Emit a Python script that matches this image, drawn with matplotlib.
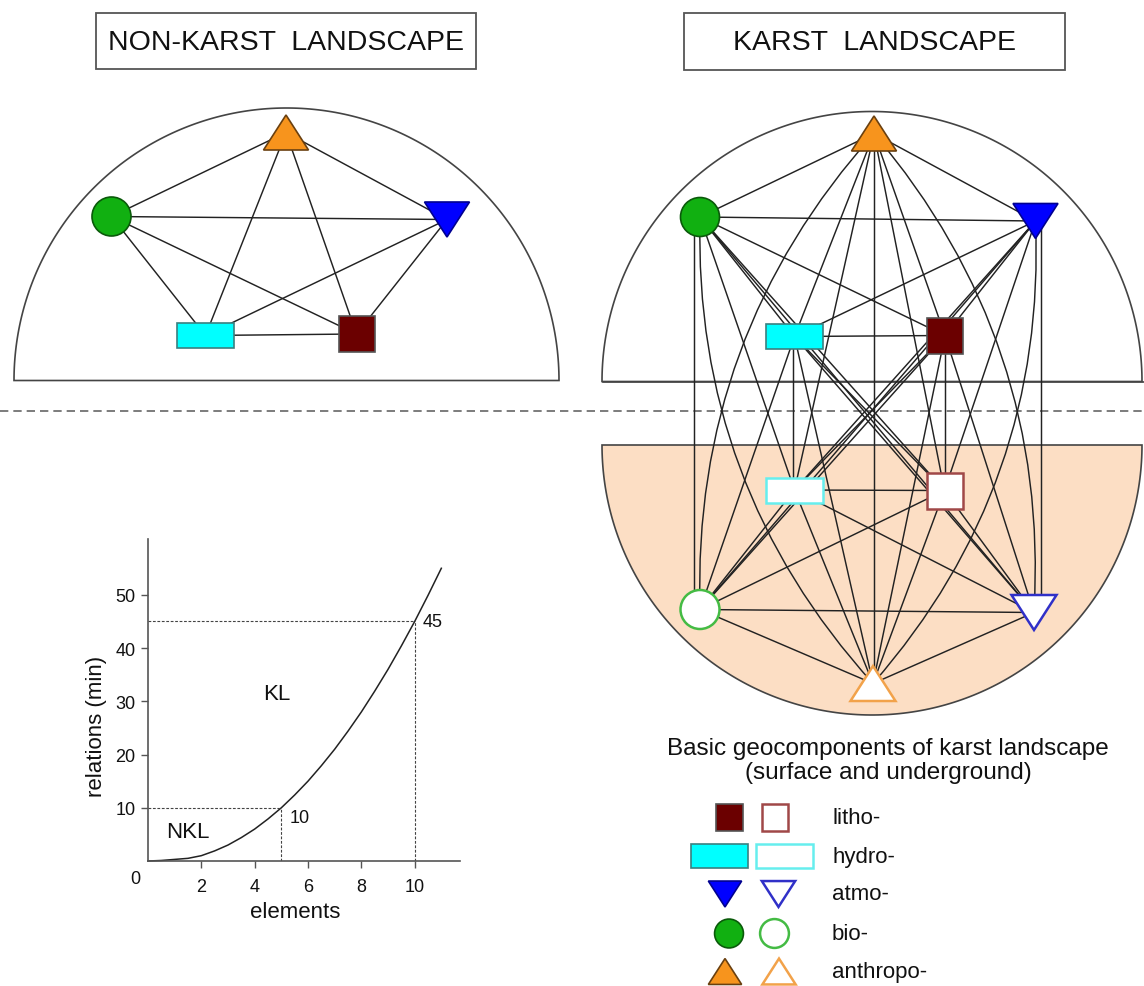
import numpy as np
import matplotlib
matplotlib.use("Agg")
import matplotlib.pyplot as plt
from matplotlib.patches import Rectangle, Circle, Polygon, PathPatch
from matplotlib.path import Path

plt.rcParams['font.family'] = ['Liberation Sans', 'DejaVu Sans']

# ---------------- data ----------------
titles = ["NON-KARST  LANDSCAPE", "KARST  LANDSCAPE"]
components = ["litho", "hydro", "atmo", "bio", "anthropo"]
legend_labels = ["litho-", "hydro-", "atmo-", "bio-", "anthropo-"]
legend_title = "Basic geocomponents of karst landscape\n(surface and underground)"

# inset chart: minimum number of relations vs. number of elements
elements = [0, 0.5, 1, 1.5, 2, 2.5, 3, 3.5, 4, 4.5, 5, 5.5, 6, 6.5, 7, 7.5,
            8, 8.5, 9, 9.5, 10, 10.5, 11]
relations = [0, 0.1, 0.3, 0.5, 1, 1.9, 3, 4.4, 6, 7.9, 10, 12.4, 15, 17.9,
             21, 24.4, 28, 31.9, 36, 40.4, 45, 49.9, 55]
marked_elements = [5, 10]
marked_relations = [10, 45]
xticks = [2, 4, 6, 8, 10]
yticks = [10, 20, 30, 40, 50]

# ---------------- layout (pixel space) ----------------
W, H = 1144, 987
fig = plt.figure(figsize=(W / 100, H / 100), dpi=100)
ax = fig.add_axes([0, 0, 1, 1])
ax.set_xlim(0, W)
ax.set_ylim(H, 0)
ax.axis('off')

LINE = '#222222'
PEACH = '#FCDEC4'
ELW = 1.05

styles = {
    'litho':    dict(fill='#6B0000', edge='#555555', hedge='#A04848'),
    'hydro':    dict(fill='#00FFFF', edge='#3A8080', hedge='#66EEEE'),
    'atmo':     dict(fill='#0000FF', edge='#000090', hedge='#3030C8'),
    'bio':      dict(fill='#11B011', edge='#0A5A0A', hedge='#44BB44'),
    'anthropo': dict(fill='#F7941D', edge='#6A4010', hedge='#F2A24A'),
}

def draw_node(kind, x, y, filled=True, scale=1.0, z=5):
    st = styles[kind]
    fc = st['fill'] if filled else 'white'
    ec = st['edge'] if filled else st['hedge']
    lw = 1.2 if filled else 1.8
    if kind == 'litho':
        s = 36 * scale
        p = Rectangle((x - s / 2, y - s / 2), s, s)
    elif kind == 'hydro':
        w, h = 57, 25 * scale
        p = Rectangle((x - w / 2, y - h / 2), w, h)
    elif kind == 'bio':
        p = Circle((x, y), 19.5 * scale)
    elif kind == 'atmo':
        w, h = 45 * scale, 35 * scale
        p = Polygon([(x - w / 2, y - h / 2), (x + w / 2, y - h / 2), (x, y + h / 2)])
    else:
        w, h = 45 * scale, 35 * scale
        p = Polygon([(x - w / 2, y + h / 2), (x + w / 2, y + h / 2), (x, y - h / 2)])
    p.set_facecolor(fc)
    p.set_edgecolor(ec)
    p.set_linewidth(lw)
    p.set_zorder(z)
    ax.add_patch(p)

def half_disc(cx, cy, r, upper=True, **kw):
    t = np.linspace(0, np.pi, 200)
    xs = cx + r * np.cos(t)
    ys = cy - r * np.sin(t) if upper else cy + r * np.sin(t)
    poly = Polygon(np.column_stack([xs, ys]), closed=True, **kw)
    ax.add_patch(poly)

# title boxes
for (x0, y0, x1, y1), t in zip([(96, 14, 476, 70), (684, 14, 1065, 71)], titles):
    ax.add_patch(Rectangle((x0, y0), x1 - x0, y1 - y0, fill=False,
                           edgecolor='#555555', lw=1.3))
    ax.text((x0 + x1) / 2, (y0 + y1) / 2 + 1, t, ha='center', va='center',
            fontsize=20.5, color='#111111')

# separator
ax.plot([0, W], [412, 412], color='#666666', lw=1.2, dashes=(5, 3))

# ---------------- non-karst graph ----------------
half_disc(286.5, 381.5, 272.5, True, facecolor='none', edgecolor='#444444', lw=1.2, zorder=1)
nk_pos = {'anthropo': (286, 133.5), 'bio': (111.5, 217.5), 'atmo': (447, 220.5),
          'hydro': (205.5, 336.5), 'litho': (356.5, 335)}
nk_names = list(nk_pos)
for i in range(len(nk_names)):
    for j in range(i + 1, len(nk_names)):
        (x1, y1), (x2, y2) = nk_pos[nk_names[i]], nk_pos[nk_names[j]]
        ax.plot([x1, x2], [y1, y2], color=LINE, lw=ELW, zorder=2)
for k, (x, y) in nk_pos.items():
    draw_node(k, x, y, True)

# ---------------- karst graph ----------------
half_disc(872, 446, 270, False, facecolor=PEACH, edgecolor='#444444', lw=1.2, zorder=0)
half_disc(872, 382.5, 270, True, facecolor='none', edgecolor='#444444', lw=1.2, zorder=1)
ax.plot([603, W], [382.5, 382.5], color='#444444', lw=1.2, zorder=1)

k_pos = {
    ('anthropo', 1): (874, 134.5), ('bio', 1): (700, 218), ('atmo', 1): (1035.5, 222),
    ('hydro', 1): (794.5, 337.5), ('litho', 1): (945, 336.5),
    ('hydro', 0): (794.5, 491), ('litho', 0): (944.5, 491.5), ('bio', 0): (700, 610.5),
    ('atmo', 0): (1034, 613.5), ('anthropo', 0): (873, 684.5),
}
# horizontal offset of the vertical (same component) links
vert_offset = {'bio': -6, 'atmo': 5, 'hydro': -2, 'litho': 0, 'anthropo': 0}
curved = {frozenset([('anthropo', 1), ('bio', 0)]), frozenset([('anthropo', 1), ('atmo', 0)]),
          frozenset([('bio', 1), ('anthropo', 0)]), frozenset([('atmo', 1), ('anthropo', 0)])}
CX, CY = 872, 414
keys = list(k_pos)
for i in range(len(keys)):
    for j in range(i + 1, len(keys)):
        (x1, y1), (x2, y2) = k_pos[keys[i]], k_pos[keys[j]]
        if keys[i][0] == keys[j][0]:
            off = vert_offset[keys[i][0]]
            ax.plot([x1 + off, x1 + off], [y1, y2], color=LINE, lw=ELW, zorder=2)
        elif frozenset([keys[i], keys[j]]) in curved:
            mx, my = (x1 + x2) / 2, (y1 + y2) / 2
            px, py = -(y2 - y1), (x2 - x1)
            if px * (mx - CX) + py * (my - CY) < 0:
                px, py = -px, -py
            rad = 0.2
            cx, cy = mx + rad * px, my + rad * py
            path = Path([(x1, y1), (cx, cy), (x2, y2)], [Path.MOVETO, Path.CURVE3, Path.CURVE3])
            ax.add_patch(PathPatch(path, facecolor='none', edgecolor=LINE, lw=ELW, zorder=2))
        else:
            ax.plot([x1, x2], [y1, y2], color=LINE, lw=ELW, zorder=2)
for (k, top), (x, y) in k_pos.items():
    draw_node(k, x, y, filled=bool(top))

# ---------------- legend ----------------
ax.text(888, 761, legend_title, ha='center', va='center', fontsize=17.5,
        color='#111111', linespacing=1.12)
leg_y = [818.5, 857, 895, 934.5, 972.5]
leg_x_filled = [729.5, 719.5, 725, 729, 725]
leg_x_hollow = [775, 784.5, 778.5, 774.5, 779]
for k, lab, y, xf, xh in zip(components, legend_labels, leg_y, leg_x_filled, leg_x_hollow):
    sc = 0.74 if k != 'hydro' else 0.96
    draw_node(k, xf, y, True, scale=sc)
    draw_node(k, xh, y, False, scale=sc)
    ax.text(832, y, lab, ha='left', va='center', fontsize=16, color='#111111')

# ---------------- inset chart ----------------
ax2 = fig.add_axes([148 / W, (H - 862) / H, 312 / W, 322 / H])
ax2.patch.set_alpha(0)
ax2.plot(elements, relations, color='#222222', lw=1.1, clip_on=False)
for xm, ym in zip(marked_elements, marked_relations):
    ax2.plot([0, xm], [ym, ym], color='#444444', lw=0.8, dashes=(2.5, 1.5))
    ax2.plot([xm, xm], [0, ym], color='#444444', lw=0.8, dashes=(2.5, 1.5))
ax2.set_xlim(0, 11.7)
ax2.set_ylim(0, 60.5)
for s in ['top', 'right']:
    ax2.spines[s].set_visible(False)
for s in ['left', 'bottom']:
    ax2.spines[s].set_color('#555555')
    ax2.spines[s].set_linewidth(1.2)
ax2.set_xticks(xticks)
ax2.set_yticks(yticks)
ax2.tick_params(direction='out', length=5, width=1, colors='#555555',
                labelcolor='#111111', labelsize=13)
ax2.tick_params(axis='x', pad=7)
ax2.tick_params(axis='y', pad=4)
ax2.text(-0.49, -3.2, "0", ha='center', va='center', fontsize=13, color='#111111', clip_on=False)
ax2.set_xlabel("elements", fontsize=16, color='#111111')
ax2.set_ylabel("relations (min)", fontsize=16, color='#111111')
ax2.xaxis.set_label_coords(0.473, -0.125)
ax2.yaxis.set_label_coords(-0.13, 0.42)
ax2.text(4.81, 31.4, "KL", ha='center', va='center', fontsize=16, color='#111111')
ax2.text(1.48, 5.5, "NKL", ha='center', va='center', fontsize=16, color='#111111')
ax2.text(5.69, 8.1, "10", ha='center', va='center', fontsize=13, color='#111111')
ax2.text(10.69, 45, "45", ha='center', va='center', fontsize=13, color='#111111', clip_on=False)

fig.savefig("out.png", dpi=100)
